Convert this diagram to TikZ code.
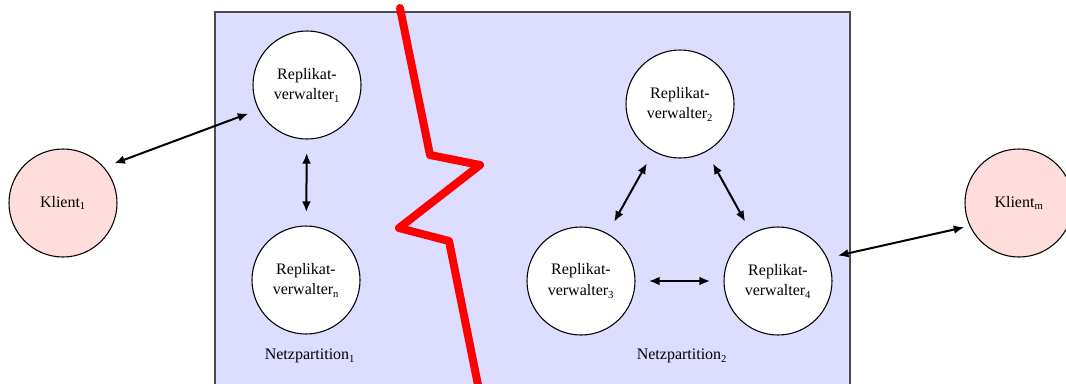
\documentclass[tikz,border=0pt]{standalone}
\usepackage{fontspec}
\setmainfont{Liberation Serif}
\usetikzlibrary{arrows.meta}
\definecolor{partblue}{RGB}{221,221,255}
\definecolor{clientpink}{RGB}{255,221,221}
\definecolor{cutred}{RGB}{255,0,0}
\begin{document}
\begin{tikzpicture}[x=0.75pt,y=-0.75pt,
  rv/.style={circle,draw,line width=0.8pt,fill=white,minimum size=81pt,inner sep=0pt,
    align=center,font=\fontsize{12}{15.5}\selectfont},
  kl/.style={rv,fill=clientpink},
  tip/.tip={Latex[length=8pt,width=6.5pt]},
  link/.style={tip-tip,line width=1.5pt,shorten <=10pt,shorten >=10pt},
  sidelink/.style={link,shorten <=8pt,shorten >=8pt},
  lbl/.style={font=\fontsize{12}{14}\selectfont}]
\useasboundingbox (0,0) rectangle (1066,383);
\clip (0,0) rectangle (1066,383);

% network area
\draw[draw=black!70,line width=0.8pt,fill=partblue] (215,12) rectangle (850,395);

% nodes
\node[rv] (rv1) at (307,85) {Replikat-\\verwalter\textsubscript{1}};
\node[rv] (rvn) at (306,280) {Replikat-\\verwalter\textsubscript{n}};
\node[rv] (rv2) at (680,104) {Replikat-\\verwalter\textsubscript{2}};
\node[rv] (rv3) at (581,281) {Replikat-\\verwalter\textsubscript{3}};
\node[rv] (rv4) at (778,281) {Replikat-\\verwalter\textsubscript{4}};
\node[kl] (k1) at (63,203) {Klient\textsubscript{1}};
\node[kl] (km) at (1019,203) {Klient\textsubscript{m}};

\node[lbl] (np1) at (310,356) {Netzpartition\textsubscript{1}};
\node[lbl] (np2) at (682,356) {Netzpartition\textsubscript{2}};

% partition cut
\draw[cutred,line width=6pt,line join=round,line cap=round]
  (400,8) -- (430,155) -- (480,165) -- (399,228) -- (449,241) -- (480,395);

% connections
\draw[sidelink] (k1.41) -- (rv1.207);
\draw[link] (rv1) -- (rvn);
\draw[link] (rv2) -- (rv3);
\draw[link] (rv2) -- (rv4);
\draw[link] (rv3) -- (rv4);
\draw[sidelink,shorten >=4pt] (rv4.25) -- (km.205);
\end{tikzpicture}
\end{document}
